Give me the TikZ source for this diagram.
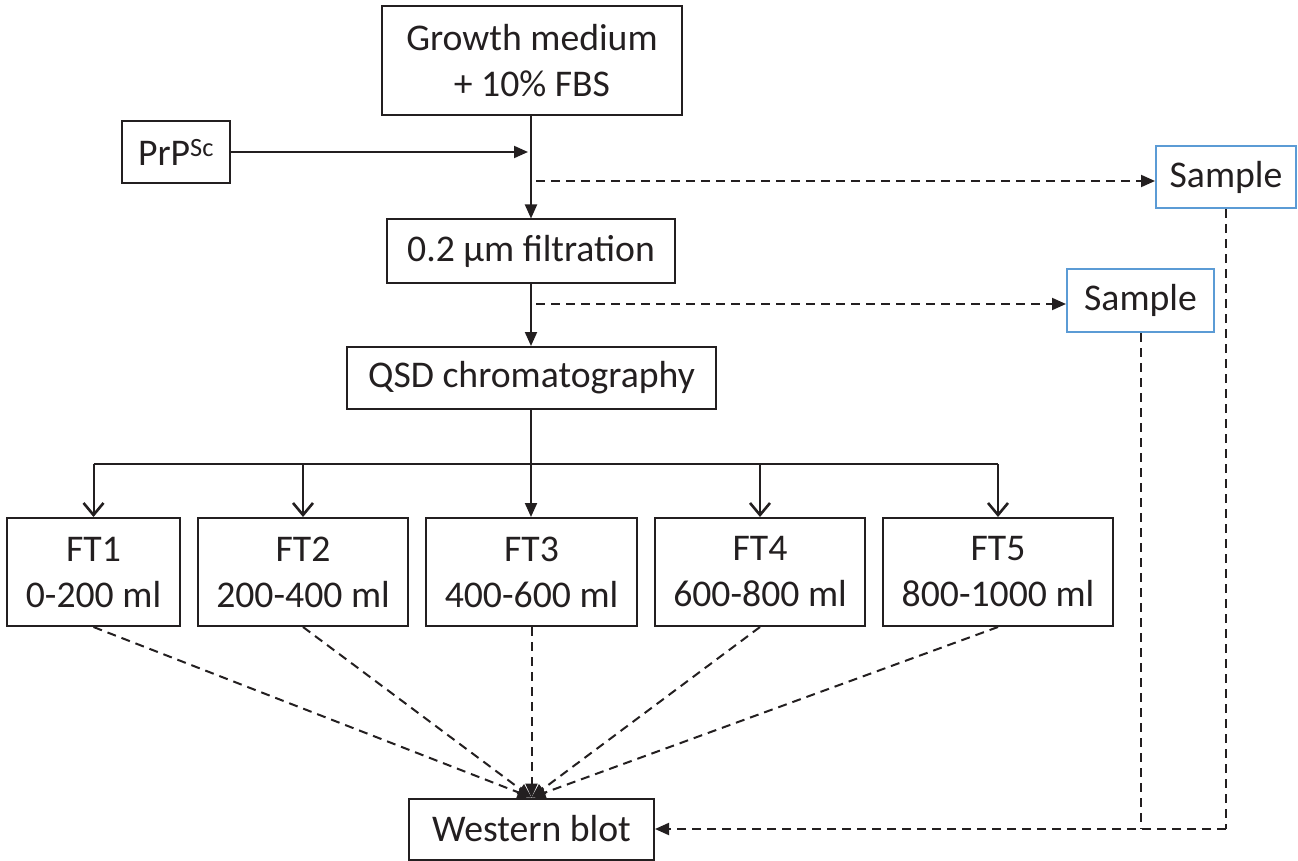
\documentclass[tikz,border=0pt]{standalone}
\usepackage{fontspec}
\setmainfont{Carlito}
\usetikzlibrary{arrows.meta}
\definecolor{sblue}{RGB}{91,155,213}
\definecolor{ink}{RGB}{35,31,32}
\begin{document}
\begin{tikzpicture}[x=1pt,y=-1pt,
  box/.style={draw=ink,line width=2pt,inner sep=0pt,align=center,
    font=\fontsize{37.7}{46}\selectfont,text=ink},
  sbox/.style={box,draw=sblue,line width=2pt},
  arr/.style={draw=ink,line width=2pt,-{Triangle[length=14pt,width=12pt]}},
  oarr/.style={draw=ink,line width=2pt,-{Straight Barb[length=12pt,width=20pt,line width=2.6pt]}},
  darr/.style={draw=ink,line width=2pt,dash pattern=on 9pt off 6pt,-{Triangle[length=14pt,width=12pt]}},
  dline/.style={draw=ink,line width=2pt,dash pattern=on 9pt off 6pt},
  sline/.style={draw=ink,line width=2pt}]
\useasboundingbox (0,0) rectangle (1298,861);
\node[box,minimum width=300pt,minimum height=109pt] (growth) at (532,61) {Growth medium\\+ 10\% FBS};
\node[box,minimum width=108pt,minimum height=62pt] (prp) at (176,152) {PrP\textsuperscript{Sc}};
\node[sbox,minimum width=140pt,minimum height=62pt] (s1) at (1226,177) {\raisebox{-3pt}{Sample}};
\node[box,minimum width=288pt,minimum height=63pt] (filt) at (531,251) {0.2 µm filtration};
\node[sbox,minimum width=147pt,minimum height=63pt] (s2) at (1140.5,300.5) {\raisebox{-3pt}{Sample}};
\node[box,minimum width=369pt,minimum height=62pt] (qsd) at (531.5,378) {QSD chromatography};
\node[box,minimum width=173pt,minimum height=108pt] (ft1) at (93.5,572) {FT1\\0-200 ml};
\node[box,minimum width=210pt,minimum height=108pt] (ft2) at (303,572) {FT2\\200-400 ml};
\node[box,minimum width=211pt,minimum height=108pt] (ft3) at (531.5,572) {FT3\\400-600 ml};
\node[box,minimum width=210pt,minimum height=108pt] (ft4) at (760,572) {FT4\\600-800 ml};
\node[box,minimum width=230pt,minimum height=108pt] (ft5) at (998,572) {FT5\\800-1000 ml};
\node[box,minimum width=245pt,minimum height=61pt] (wb) at (531.5,829) {Western blot};
% main trunk
\coordinate (t1) at (filt.north -| 531,0);
\draw[arr] (growth.south -| t1) -- (t1);
\draw[arr] (prp.east) -- ([xshift=-3pt]prp.east -| t1);
\draw[darr] ([xshift=5pt]t1 |- 0,181) -- (s1.west |- 0,181);
\draw[arr] (filt.south -| t1) -- (qsd.north -| t1);
\draw[darr] ([xshift=5pt]t1 |- 0,304) -- (s2.west |- 0,304);
% branching
\coordinate (hb) at (531,464);
\draw[sline] (qsd.south -| hb) -- (hb);
\draw[sline] (ft1.north |- hb) -- (ft5.north |- hb);
\draw[oarr] (ft1.north |- hb) -- (ft1.north);
\draw[oarr] (ft2.north |- hb) -- (ft2.north);
\draw[arr] (hb) -- (ft3.north -| hb);
\draw[oarr] (ft4.north |- hb) -- (ft4.north);
\draw[oarr] (ft5.north |- hb) -- (ft5.north);
% to western blot
\coordinate (wbt) at (wb.north);
\foreach \f in {ft1,ft2,ft3,ft4,ft5}{\draw[darr] (\f.south) -- (wbt);}
\coordinate (c1) at (s1.south |- wb.east);
\coordinate (c2) at (s2.south |- wb.east);
\draw[dline] (s1.south) -- (c1);
\draw[dline] (s2.south) -- (c2);
\draw[darr] (c1) -- (wb.east);
\end{tikzpicture}
\end{document}
